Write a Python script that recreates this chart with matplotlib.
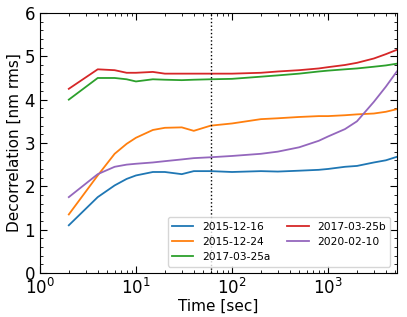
import matplotlib.pyplot as plt
from matplotlib.ticker import MultipleLocator

plt.switch_backend("Agg")

# sample times [sec]
time_sec = [2, 4, 6, 8, 10, 15, 20, 30, 40, 60, 100, 200, 300, 500, 800, 1000, 1500, 2000, 3000, 4000, 5200]

series = {
    "2015-12-16": [1.10, 1.75, 2.02, 2.17, 2.25, 2.33, 2.33, 2.28, 2.35, 2.35, 2.33, 2.35, 2.34, 2.36, 2.38, 2.40, 2.45, 2.47, 2.55, 2.60, 2.68],
    "2015-12-24": [1.35, 2.25, 2.75, 2.98, 3.12, 3.30, 3.35, 3.36, 3.28, 3.40, 3.45, 3.55, 3.57, 3.60, 3.62, 3.62, 3.64, 3.66, 3.68, 3.72, 3.78],
    "2017-03-25a": [4.00, 4.50, 4.50, 4.47, 4.42, 4.47, 4.46, 4.45, 4.46, 4.47, 4.48, 4.53, 4.56, 4.60, 4.65, 4.67, 4.70, 4.72, 4.76, 4.79, 4.83],
    "2017-03-25b": [4.25, 4.70, 4.68, 4.62, 4.62, 4.64, 4.60, 4.60, 4.60, 4.60, 4.60, 4.62, 4.65, 4.68, 4.72, 4.75, 4.80, 4.85, 4.95, 5.05, 5.15],
    "2020-02-10": [1.75, 2.28, 2.45, 2.50, 2.52, 2.55, 2.58, 2.62, 2.65, 2.67, 2.70, 2.75, 2.80, 2.90, 3.05, 3.15, 3.32, 3.50, 3.95, 4.30, 4.65],
}
colors = ["#1f77b4", "#ff7f0e", "#2ca02c", "#d62728", "#9467bd"]
marker_time = 60


def main() -> None:
    fig = plt.figure(figsize=(4.07, 3.17), dpi=100)
    ax = fig.add_axes([0.098, 0.139, 0.877, 0.82])

    for (name, vals), col in zip(series.items(), colors):
        ax.plot(time_sec, vals, color=col, linewidth=1.3, label=name)

    ax.axvline(marker_time, color="black", linestyle=":", linewidth=1.0)

    ax.set_xscale("log")
    ax.set_xlim(1, 5200)
    ax.set_ylim(0, 6)
    ax.yaxis.set_major_locator(MultipleLocator(1))
    ax.yaxis.set_minor_locator(MultipleLocator(0.2))
    ax.tick_params(which="both", direction="in", top=True, right=True)
    ax.tick_params(which="major", length=5, labelsize=12)
    ax.tick_params(which="minor", length=2.5)

    ax.set_xlabel("Time [sec]", fontsize=11, labelpad=1)
    ax.set_ylabel("Decorrelation [nm rms]", fontsize=11, labelpad=2)
    ax.legend(ncol=2, fontsize=7.7, loc="lower right", handlelength=2.0,
              columnspacing=1.6, borderaxespad=0.6)

    fig.savefig("out.png", dpi=100)
    plt.close(fig)


if __name__ == "__main__":
    main()
